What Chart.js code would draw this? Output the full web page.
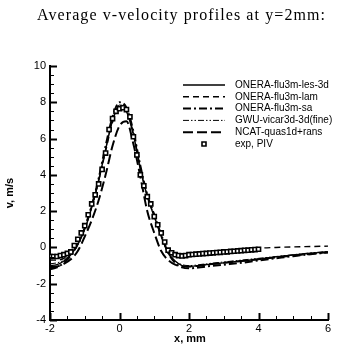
<!DOCTYPE html>
<html>
<head>
<meta charset="utf-8">
<script src="https://cdn.jsdelivr.net/npm/chart.js@4/dist/chart.umd.min.js"></script>
<style>
  html, body { margin: 0; padding: 0; background: #fff; }
  canvas { display: block; }
</style>
</head>
<body>
<canvas id="c" width="337" height="347"></canvas>
<script>
// Streamwise stations (mm) for the computed profiles
const simX = [-2, -1.8, -1.6, -1.4, -1.2, -1.0, -0.8, -0.6, -0.4, -0.2, 0, 0.2, 0.4, 0.6, 0.8, 1.0, 1.2, 1.4, 1.6, 1.8, 2.0, 2.5, 3, 3.5, 4, 4.5, 5, 5.5, 6];

// v-velocity (m/s) of each computation at the stations above
const lesV  = [-1.0, -0.95, -0.75, -0.4, 0.15, 1.0, 2.2, 3.7, 5.4, 7.0, 7.75, 7.5, 6.2, 4.3, 2.8, 1.7, 0.6, -0.3, -0.75, -1.0, -1.05, -0.95, -0.85, -0.75, -0.65, -0.52, -0.42, -0.32, -0.25];
const lamV  = [-0.7, -0.7, -0.6, -0.3, 0.2, 1.1, 2.3, 3.7, 5.3, 6.9, 7.7, 7.5, 6.3, 4.4, 2.9, 1.8, 0.7, -0.1, -0.45, -0.55, -0.5, -0.4, -0.3, -0.18, -0.05, 0.0, 0.03, 0.05, 0.07];
const saV   = [-1.2, -1.1, -0.85, -0.45, 0.2, 1.1, 2.3, 3.8, 5.6, 7.2, 8.0, 7.7, 6.4, 4.5, 2.9, 1.8, 0.7, -0.3, -0.85, -1.1, -1.15, -1.05, -0.95, -0.85, -0.72, -0.6, -0.48, -0.37, -0.28];
const gwuV  = [-0.9, -0.85, -0.7, -0.35, 0.2, 1.0, 2.2, 3.6, 5.4, 7.0, 7.85, 7.6, 6.3, 4.4, 2.85, 1.75, 0.6, -0.3, -0.75, -0.95, -1.0, -0.9, -0.8, -0.7, -0.6, -0.5, -0.4, -0.3, -0.22];
const ncatV = [-1.1, -1.05, -0.9, -0.65, -0.2, 0.6, 1.5, 2.6, 4.0, 5.6, 6.7, 6.95, 5.7, 3.9, 2.0, 0.8, -0.2, -0.7, -0.95, -1.05, -1.05, -0.95, -0.85, -0.75, -0.65, -0.55, -0.45, -0.35, -0.27];

// PIV measurements
const expX = [-2.0, -1.9, -1.8, -1.7, -1.6, -1.5, -1.4, -1.3, -1.2, -1.1, -1.0, -0.9, -0.8, -0.7, -0.6, -0.5, -0.4, -0.3, -0.2, -0.1, 0.0, 0.1, 0.2, 0.3, 0.4, 0.5, 0.6, 0.7, 0.8, 0.9, 1.0, 1.1, 1.2, 1.3, 1.4, 1.5, 1.6, 1.7, 1.8, 1.9, 2.0, 2.1, 2.2, 2.3, 2.4, 2.5, 2.6, 2.7, 2.8, 2.9, 3.0, 3.1, 3.2, 3.3, 3.4, 3.5, 3.6, 3.7, 3.8, 3.9, 4.0];
const expV = [-0.5, -0.5, -0.5, -0.45, -0.4, -0.33, -0.25, 0.1, 0.45, 0.8, 1.2, 1.8, 2.4, 2.9, 3.5, 4.3, 5.2, 6.5, 7.1, 7.5, 7.65, 7.7, 7.6, 7.2, 6.1, 5.1, 4.0, 3.4, 2.8, 2.4, 1.7, 1.25, 0.8, 0.3, -0.15, -0.3, -0.4, -0.45, -0.47, -0.45, -0.4, -0.39, -0.37, -0.36, -0.34, -0.33, -0.31, -0.3, -0.28, -0.27, -0.25, -0.24, -0.22, -0.21, -0.19, -0.18, -0.16, -0.15, -0.13, -0.12, -0.1];

// Axis ticks
const xTicks = [-2, 0, 2, 4, 6];
const yTicks = [-4, -2, 0, 2, 4, 6, 8, 10];
const minorStep = 0.5;

const titleText = 'Average v-velocity profiles at y=2mm:';
const labels = ['ONERA-flu3m-les-3d', 'ONERA-flu3m-lam', 'ONERA-flu3m-sa', 'GWU-vicar3d-3d(fine)', 'NCAT-quas1d+rans', 'exp, PIV'];

const pts = (xs, ys) => xs.map((x, i) => ({ x, y: ys[i] }));

function lineSet(label, ys, dash, width) {
  return {
    label, data: pts(simX, ys), showLine: true,
    borderColor: '#000', backgroundColor: '#000',
    borderWidth: width, borderDash: dash, pointRadius: 0, fill: false,
    cubicInterpolationMode: 'monotone'
  };
}

const datasets = [
  lineSet(labels[0], lesV, [], 1.4),
  lineSet(labels[1], lamV, [6, 4], 1.4),
  lineSet(labels[2], saV, [8, 3, 2, 3], 2),
  lineSet(labels[3], gwuV, [6, 2, 1.5, 2, 1.5, 2], 1),
  lineSet(labels[4], ncatV, [10, 4], 2),
  {
    label: labels[5], data: pts(expX, expV), showLine: false, order: -1,
    pointStyle: 'rect', pointRadius: 2.9, borderWidth: 1.6,
    borderColor: '#000', backgroundColor: '#fff'
  }
];

// Title, axis titles, inward ticks and the legend block
const decorations = {
  id: 'decorations',
  afterDraw(chart) {
    const { ctx, chartArea: a, scales: { x, y } } = chart;
    ctx.save();
    ctx.strokeStyle = '#000';
    ctx.fillStyle = '#000';

    // inward major/minor ticks
    for (let v = x.min; v <= x.max + 1e-9; v += minorStep) {
      const major = xTicks.some(t => Math.abs(t - v) < 1e-6);
      const px = Math.round(x.getPixelForValue(v)) + 0.5;
      ctx.lineWidth = major ? 2 : 1;
      ctx.beginPath(); ctx.moveTo(px, a.bottom); ctx.lineTo(px, a.bottom - (major ? 7 : 4)); ctx.stroke();
    }
    for (let v = y.min; v <= y.max + 1e-9; v += minorStep) {
      const major = yTicks.some(t => Math.abs(t - v) < 1e-6);
      const py = Math.round(y.getPixelForValue(v)) + 0.5;
      ctx.lineWidth = major ? 2 : 1;
      ctx.beginPath(); ctx.moveTo(a.left, py); ctx.lineTo(a.left + (major ? 7 : 4), py); ctx.stroke();
    }

    // title
    ctx.font = '16px "Liberation Serif"';
    ctx.textBaseline = 'alphabetic';
    ctx.textAlign = 'left';
    const target = 288;
    const w0 = ctx.measureText(titleText).width;
    ctx.letterSpacing = Math.max(0, (target - w0) / (titleText.length - 1)) + 'px';
    ctx.fillText(titleText, 37, 20);
    ctx.letterSpacing = '0px';

    // axis titles
    ctx.font = 'bold 11px "Liberation Sans"';
    ctx.textAlign = 'center';
    ctx.textBaseline = 'middle';
    ctx.fillText('x, mm', (a.left + a.right) / 2 + 1, 339);
    ctx.save();
    ctx.translate(10, 193);
    ctx.rotate(-Math.PI / 2);
    ctx.fillText('v, m/s', 0, 0);
    ctx.restore();

    // legend
    ctx.font = '10px "Liberation Sans"';
    ctx.textAlign = 'left';
    ctx.textBaseline = 'middle';
    chart.data.datasets.forEach((ds, i) => {
      const ly = 85 + i * 11.8;
      if (ds.showLine === false) {
        ctx.lineWidth = ds.borderWidth;
        ctx.strokeStyle = ds.borderColor;
        ctx.fillStyle = ds.backgroundColor;
        ctx.beginPath(); ctx.rect(202, ly - 2, 4, 4); ctx.fill(); ctx.stroke();
        ctx.fillStyle = '#000';
      } else {
        ctx.lineWidth = ds.borderWidth;
        ctx.setLineDash(ds.borderDash);
        ctx.beginPath(); ctx.moveTo(183, ly); ctx.lineTo(225, ly); ctx.stroke();
        ctx.setLineDash([]);
      }
      ctx.fillText(ds.label, 235, ly);
    });
    ctx.restore();
  }
};

new Chart(document.getElementById('c'), {
  type: 'scatter',
  data: { datasets },
  options: {
    responsive: false,
    animation: false,
    events: [],
    layout: { padding: { left: 0, right: 9, top: 66, bottom: 0 } },
    plugins: { legend: { display: false }, title: { display: false }, tooltip: { enabled: false } },
    scales: {
      x: {
        type: 'linear', min: -2, max: 6,
        afterBuildTicks: s => { s.ticks = xTicks.map(v => ({ value: v })); },
        afterFit: s => { s.height = 27; },
        grid: { display: false, drawTicks: false },
        border: { display: true, color: '#000', width: 2 },
        ticks: { color: '#000', font: { size: 11, family: 'Liberation Sans' }, padding: 2, maxRotation: 0 }
      },
      y: {
        type: 'linear', min: -4, max: 10,
        afterBuildTicks: s => { s.ticks = yTicks.map(v => ({ value: v })); },
        afterFit: s => { s.width = 50; },
        grid: { display: false, drawTicks: false },
        border: { display: true, color: '#000', width: 2 },
        ticks: { color: '#000', font: { size: 11, family: 'Liberation Sans' }, padding: 4 }
      }
    }
  },
  plugins: [decorations]
});
</script>
</body>
</html>
